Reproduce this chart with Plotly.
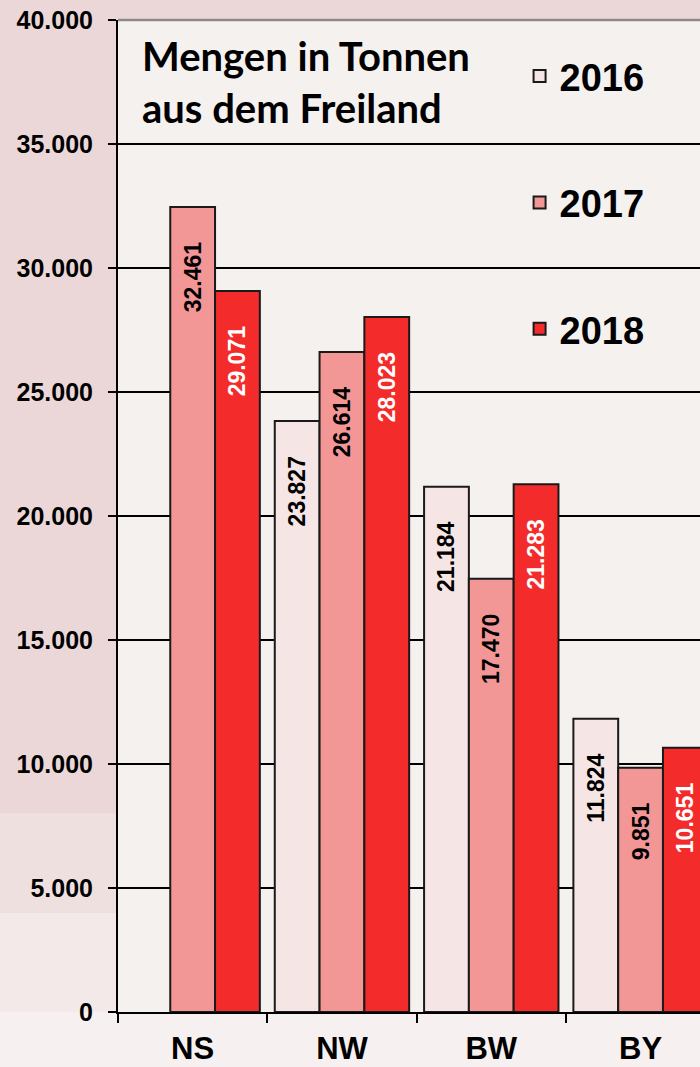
import plotly.graph_objects as go

categories = ["NS", "NW", "BW", "BY"]
years = ["2016", "2017", "2018"]
values_2016 = [None, 23827, 21184, 11824]
values_2017 = [32461, 26614, 17470, 9851]
values_2018 = [29071, 28023, 21283, 10651]
series = [values_2016, values_2017, values_2018]

bar_colors = ["#f5e5e5", "#f39696", "#f42b2b"]
text_colors = ["black", "black", "white"]
y_ticks = [0, 5000, 10000, 15000, 20000, 25000, 30000, 35000, 40000]

fig = go.Figure()
pad = "\u00a0" * 5
for name, vals, col, tcol in zip(years, series, bar_colors, text_colors):
    fig.add_trace(go.Bar(
        x=categories, y=vals, name=name,
        marker=dict(color=col, line=dict(color="#1a1a1a", width=2)),
        texttemplate="%{y:,.0f}" + pad,
        textposition="inside", insidetextanchor="end", textangle=-90,
        textfont=dict(family="Liberation Sans, Arial", size=23, color=tcol, weight="bold"),
        constraintext="none",
        legendgroup=name,
    ))

# background tint shapes (paper)
bg_shapes = [
    dict(type="rect", xref="paper", yref="paper", x0=-0.25, x1=1.0, y0=-0.07, y1=0.0,
         fillcolor="#f6f1f0", line=dict(width=0), layer="below"),
    dict(type="rect", xref="paper", yref="paper", x0=-0.25, x1=0.0, y0=0.0, y1=0.1,
         fillcolor="#f3e9e8", line=dict(width=0), layer="below"),
    dict(type="rect", xref="paper", yref="paper", x0=-0.25, x1=0.0, y0=0.1, y1=0.2,
         fillcolor="#efe0e0", line=dict(width=0), layer="below"),
    dict(type="line", xref="paper", yref="paper", x0=0, x1=1, y0=1, y1=1,
         line=dict(color="#8a8a8a", width=2.5)),
]

fig.update_layout(
    width=700, height=1067,
    margin=dict(l=118, r=0, t=20, b=55),
    paper_bgcolor="#ecd7d8",
    plot_bgcolor="#f5f1ef",
    separators=",.",
    barmode="group", bargap=0.1, bargroupgap=0,
    font=dict(family="Liberation Sans, Arial", color="black"),
    shapes=bg_shapes,
    xaxis=dict(
        range=[-0.5, 3.398], showgrid=False,
        showline=True, linecolor="black", linewidth=2,
        ticks="outside", tickson="boundaries", ticklen=9, tickcolor="black", tickwidth=1.5,
        tickfont=dict(size=31, weight="bold", family="Liberation Sans, Arial"),
        ticklabelstandoff=8,
    ),
    yaxis=dict(
        range=[0, 40000], tickvals=y_ticks, tickformat=",.0f",
        showgrid=True, gridcolor="black", gridwidth=1.5,
        showline=True, linecolor="black", linewidth=2, zeroline=False,
        ticks="outside", ticklen=8, tickcolor="black", tickwidth=1.5,
        tickfont=dict(size=25, weight="bold", family="Liberation Sans, Arial"),
        ticklabelstandoff=10,
    ),
    legend=dict(
        x=0.69, y=0.975, xanchor="left", yanchor="top",
        bgcolor="rgba(0,0,0,0)", borderwidth=0,
        font=dict(size=38, weight="bold", family="Liberation Sans, Arial"),
        traceorder="grouped", tracegroupgap=74,
    ),
    annotations=[dict(
        text="Mengen in Tonnen<br>aus dem Freiland",
        xref="paper", yref="paper", x=0.037, y=0.99, xanchor="left", yanchor="top",
        align="left", showarrow=False,
        font=dict(family="Lato", size=40, weight="bold", color="black"),
    )],
)

fig.write_html("out.html", config={"displayModeBar": False},
               post_script="document.body.style.margin='0';document.body.style.background='#ecd7d8';")
